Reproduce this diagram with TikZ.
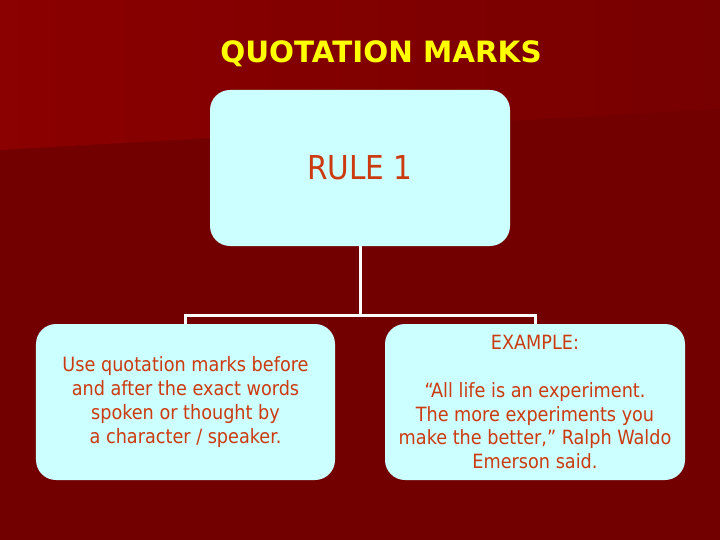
\documentclass[tikz,border=0pt]{standalone}
\usepackage{fontspec}
\setmainfont{DejaVu Sans Condensed}
\newfontfamily\titlefont{DejaVu Sans}
\definecolor{bgdark}{HTML}{720000}
\definecolor{bglight}{HTML}{8B0000}
\definecolor{bgmid}{HTML}{770000}
\definecolor{boxfill}{HTML}{CCFFFF}
\definecolor{txt}{HTML}{CC3A10}
\definecolor{ttl}{HTML}{FFFF00}
\tikzset{
  card/.style={fill=boxfill, rounded corners=20bp, minimum width=300bp, minimum height=156bp,
    text=txt, align=center, inner sep=0pt, font=\fontsize{19.7}{24}\selectfont},
  link/.style={draw=white, line width=3bp}
}
\begin{document}
\begin{tikzpicture}[x=1bp,y=-1bp]
\useasboundingbox (0,0) rectangle (720,540);
\fill[bgdark] (0,0) rectangle (720,540);
\shade[left color=bglight, right color=bgmid] (0,0) -- (720,0) -- (720,109) -- (0,150) -- cycle;
\node[text=ttl, font=\titlefont\bfseries\fontsize{29.5}{34}\selectfont] (title) at (381,54) {QUOTATION MARKS};
\node[card, font=\fontsize{33}{38}\selectfont] (rule) at (360,168) {RULE 1};
\node[card, minimum width=299bp] (left) at (185.5,402) {Use quotation marks before\\and after the exact words\\spoken or thought by\\a character / speaker.};
\node[card] (right) at (535,402) {EXAMPLE:\\[24bp]“All life is an experiment.\\The more experiments you\\make the better,” Ralph Waldo\\Emerson said.};
\coordinate (hub) at (360,315);
\draw[link] (rule.south) -- (hub);
\draw[link] (left.north) -- (left.north |- hub) -- (right.north |- hub) -- (right.north);
\end{tikzpicture}
\end{document}
